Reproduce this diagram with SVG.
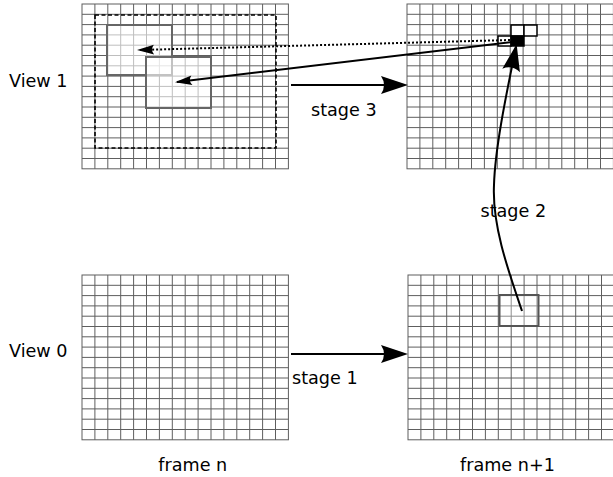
<svg xmlns="http://www.w3.org/2000/svg" xmlns:xlink="http://www.w3.org/1999/xlink" width="613" height="477" viewBox="0 0 613 477">
<style>
.grid{fill:#fff;stroke:#5e5e5e;stroke-width:1}
.lbl{font-family:"DejaVu Sans","Liberation Sans",sans-serif;font-size:17.6px;fill:#000}
.win{stroke:#666;stroke-width:2;fill:#fff;fill-opacity:0.6}
.conn{fill:none;stroke:#000;stroke-width:2}
.cell{stroke:#000;stroke-width:1.5;fill:#fff}
</style>
<defs>
<g id="gridTpl" class="grid">
<rect x="0" y="0" width="206.4" height="164.8"/>
<path fill="none" d="M12.9,0V164.8M25.8,0V164.8M38.7,0V164.8M51.6,0V164.8M64.5,0V164.8M77.4,0V164.8M90.3,0V164.8M103.2,0V164.8M116.1,0V164.8M129,0V164.8M141.9,0V164.8M154.8,0V164.8M167.7,0V164.8M180.6,0V164.8M193.5,0V164.8M0,10.3H206.4M0,20.6H206.4M0,30.9H206.4M0,41.2H206.4M0,51.5H206.4M0,61.8H206.4M0,72.1H206.4M0,82.4H206.4M0,92.7H206.4M0,103H206.4M0,113.3H206.4M0,123.6H206.4M0,133.9H206.4M0,144.2H206.4M0,154.5H206.4"/>
</g>
<marker id="big" markerUnits="userSpaceOnUse" orient="auto" markerWidth="40" markerHeight="40" refX="0" refY="0" overflow="visible">
<path d="M3,0 L-24,-9 Q-18,0 -24,9 Z" fill="#000"/>
</marker>
<marker id="small" markerUnits="userSpaceOnUse" orient="auto" markerWidth="30" markerHeight="30" refX="0" refY="0" overflow="visible">
<path d="M2,0 L-15,-4.8 Q-11,0 -15,4.8 Z" fill="#000"/>
</marker>
</defs>

<g id="view1-frame-n">
<use xlink:href="#gridTpl" transform="translate(82,4)"/>
<rect x="95" y="15" width="181" height="133" fill="none" stroke="#000" stroke-width="1.6" stroke-dasharray="4,2.5"/>
<rect class="win" x="107" y="25" width="65" height="50"/>
<rect class="win" x="146" y="57" width="65" height="51"/>
</g>

<g id="view1-frame-n1">
<use xlink:href="#gridTpl" transform="translate(407,4)"/>
<rect class="cell" x="511" y="25" width="13" height="11"/>
<rect class="cell" x="524" y="25" width="13" height="11"/>
<rect class="cell" x="498" y="36" width="13" height="10"/>
<rect x="511" y="36" width="13" height="10" fill="#000" stroke="#000" stroke-width="1.5"/>
</g>

<g id="view0-frame-n">
<use xlink:href="#gridTpl" transform="translate(82,275)"/>
</g>

<g id="view0-frame-n1">
<use xlink:href="#gridTpl" transform="translate(408,275)"/>
<rect x="499.5" y="295" width="39" height="31" fill="#fff" fill-opacity="0.3" stroke="#555" stroke-width="2"/>
</g>

<g id="connectors">
<path class="conn" d="M291,85 H405" marker-end="url(#big)"/>
<path class="conn" d="M291,354 H405" marker-end="url(#big)"/>
<path class="conn" d="M522,311 C508,270 492,225 494,185 C495,150 505,100 516,47" marker-end="url(#big)"/>
<path class="conn" d="M512,42 L177,82" marker-end="url(#small)"/>
<path class="conn" d="M510,40 L139,50" stroke-dasharray="2,2" marker-end="url(#small)"/>
</g>

<g id="labels">
<text class="lbl" x="9" y="87.3">View 1</text>
<text class="lbl" x="9" y="357.3">View 0</text>
<text class="lbl" x="311" y="116">stage 3</text>
<text class="lbl" x="292" y="384">stage 1</text>
<text class="lbl" x="480.5" y="217.3">stage 2</text>
<text class="lbl" x="158.3" y="471.3">frame n</text>
<text class="lbl" x="460" y="471.3">frame n+1</text>
</g>
</svg>
